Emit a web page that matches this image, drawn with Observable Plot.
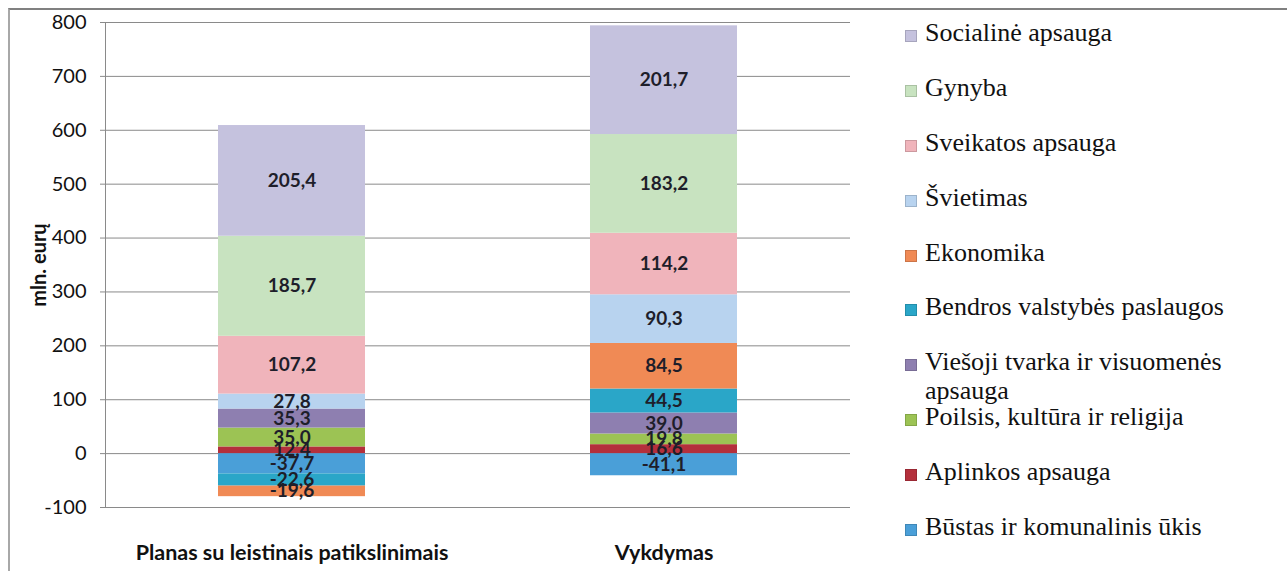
<!DOCTYPE html>
<html>
<head>
<meta charset="utf-8">
<script src="https://cdn.jsdelivr.net/npm/d3@7"></script>
<script src="https://cdn.jsdelivr.net/npm/@observablehq/plot@0.6"></script>
<style>
  html, body { margin: 0; padding: 0; background: #fff; }
  #wrap { position: relative; width: 1287px; height: 571px; overflow: hidden; background: #fff; }
  #frame { position: absolute; left: 8px; top: 8px; width: 1300px; height: 600px; z-index: 2; pointer-events: none;
           border-left: 2px solid #a8a8a8; border-top: 2px solid #808080; box-sizing: border-box; }
  #chart { position: absolute; left: 0; top: 0; z-index: 1; }
  #legend { position: absolute; left: 905px; top: 21px; font-family: "Liberation Serif", "Times New Roman", serif;
            font-size: 26px; color: #111; z-index: 1; }
  .item { position: relative; height: 54.9px; width: 330px; }
  .sw { position: absolute; left: 0; top: 9px; width: 12px; height: 12px; box-sizing: border-box; border: 1px solid rgba(0,0,0,0.15); }
  .lab { position: absolute; left: 20px; top: -3px; width: 320px; line-height: 29px; white-space: normal; }
</style>
</head>
<body>
<div id="wrap">
  <div id="chart"></div>
  <div id="legend"></div>
  <div id="frame"></div>
</div>
<script>
const categories = ["Planas su leistinais patikslinimais", "Vykdymas"];
// stacking order, bottom first (legend shows reverse)
const series = [
  "Būstas ir komunalinis ūkis",
  "Aplinkos apsauga",
  "Poilsis, kultūra ir religija",
  "Viešoji tvarka ir visuomenės apsauga",
  "Bendros valstybės paslaugos",
  "Ekonomika",
  "Švietimas",
  "Sveikatos apsauga",
  "Gynyba",
  "Socialinė apsauga"
];
const planValues      = [-37.7, 12.4, 35.0, 35.3, -22.6, -19.6, 27.8, 107.2, 185.7, 205.4];
const vykdymasValues  = [-41.1, 16.6, 19.8, 39.0, 44.5, 84.5, 90.3, 114.2, 183.2, 201.7];
const colors = ["#4a9fd8", "#b4303c", "#9cc354", "#8e7fb0", "#2aa6c8", "#f08a55", "#b8d3ef", "#f0b4bb", "#c8e3c0", "#c5c2de"];
const yTicks = [-100, 0, 100, 200, 300, 400, 500, 600, 700, 800];

const data = [];
series.forEach((s, i) => {
  data.push({category: categories[0], series: s, value: planValues[i]});
  data.push({category: categories[1], series: s, value: vykdymasValues[i]});
});
const fmt = v => v.toFixed(1).replace(".", ",");

const chart = Plot.plot({
  width: 870,
  height: 571,
  marginLeft: 105,
  marginRight: 20,
  marginTop: 22,
  marginBottom: 64,
  style: {fontFamily: "Lato, 'Open Sans', sans-serif", background: "transparent", color: "#111"},
  x: {domain: categories, paddingInner: 0.606, paddingOuter: 0.303},
  y: {domain: [-100, 800]},
  color: {domain: series, range: colors},
  marks: [
    Plot.gridY(yTicks, {stroke: "#8a8a8a", strokeOpacity: 1, strokeWidth: 1}),
    Plot.frame({anchor: "left", stroke: "#8a8a8a"}),
    Plot.barY(data, Plot.stackY({x: "category", y: "value", fill: "series", order: series})),
    Plot.text(data, Plot.stackY({x: "category", y: "value", z: "series", order: series,
      text: d => fmt(d.value), fontSize: 19, fontWeight: "bold", fill: "#1e1e2a"})),
    Plot.axisY({ticks: yTicks, tickSize: 5, tickPadding: 14, fontSize: 20, stroke: "#8a8a8a", fill: "#111",
      tickFormat: d => String(d),
      label: "mln. eurų", labelAnchor: "center", labelArrow: "none", labelOffset: 74}),
    Plot.axisX({tickSize: 0, tickPadding: 37, fontSize: 21.5, fontWeight: "bold", fill: "#111", label: null})
  ]
});
document.getElementById("chart").appendChild(chart);
d3.select(chart).selectAll('[aria-label="y-axis label"] text, [aria-label="y-axis label"]')
  .attr("font-weight", "bold").attr("font-size", 20);

const legend = document.getElementById("legend");
series.slice().reverse().forEach((s, k) => {
  const i = series.length - 1 - k;
  const item = document.createElement("div");
  item.className = "item";
  const sw = document.createElement("div");
  sw.className = "sw";
  sw.style.background = colors[i];
  const lab = document.createElement("div");
  lab.className = "lab";
  lab.textContent = s;
  item.appendChild(sw);
  item.appendChild(lab);
  legend.appendChild(item);
});
</script>
</body>
</html>
